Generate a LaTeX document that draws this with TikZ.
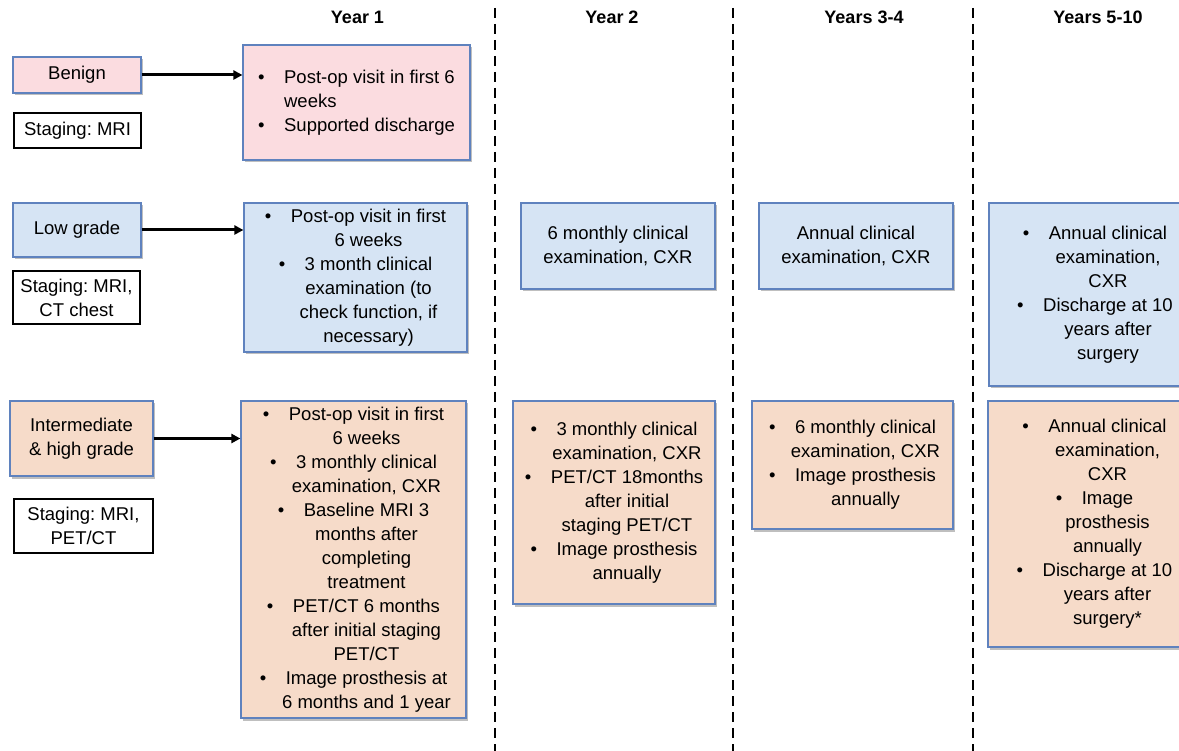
\documentclass[tikz,border=0pt]{standalone}
\usepackage{fontspec}
\setmainfont{Liberation Sans}
\usetikzlibrary{arrows.meta,shadows}
\definecolor{pinkc}{RGB}{251,220,224}
\definecolor{bluec}{RGB}{214,228,244}
\definecolor{orangec}{RGB}{246,219,201}
\definecolor{edgec}{RGB}{95,130,190}
\newcommand\bul{\makebox[26pt][l]{\textbullet}}
\newcommand\ind{\hspace*{26pt}}
\frenchspacing
\tikzset{
  txt/.style={font=\fontsize{18.5pt}{24pt}\selectfont, align=center, inner sep=0pt},
  bx/.style={txt, draw=edgec, line width=1.2pt, drop shadow={shadow xshift=1.5pt, shadow yshift=-2.5pt, opacity=0.25, fill=black}},
  pinkbox/.style={bx, fill=pinkc},
  bluebox/.style={bx, fill=bluec},
  orangebox/.style={bx, fill=orangec},
  stagebox/.style={txt, draw=black, line width=1.2pt, fill=white},
  hdr/.style={font=\fontsize{18pt}{22pt}\selectfont\bfseries, inner sep=0pt},
  divider/.style={line width=2.6pt, dash pattern=on 10pt off 6pt},
  conn/.style={line width=3pt, -{Triangle[length=9pt,width=9pt]}}
}
\begin{document}
\begin{tikzpicture}[x=1pt,y=-1pt]
\useasboundingbox[fill=white] (0,0) rectangle (1179,751);
% headers
\node[hdr] (h1) at (357.5,17) {Year 1};
\node[hdr] (h2) at (612,17) {Year 2};
\node[hdr] (h3) at (864,17) {Years 3-4};
\node[hdr] (h4) at (1098,17) {Years 5-10};
% dividers
\coordinate (d1t) at (495,8); \coordinate (d1b) at (495,751);
\coordinate (d2t) at (733,8); \coordinate (d2b) at (733,751);
\coordinate (d3t) at (973,8); \coordinate (d3b) at (973,751);
\draw[divider] (d1t) -- (d1b);
\draw[divider] (d2t) -- (d2b);
\draw[divider] (d3t) -- (d3b);
% left column
\node[pinkbox, minimum width=128pt, minimum height=36pt] (benign) at (77,75) {Benign};
\node[stagebox, minimum width=127pt, minimum height=35pt] (stg1) at (77.5,130.5) {Staging: MRI};
\node[bluebox, minimum width=128pt, minimum height=54pt] (low) at (77,230) {Low grade};
\node[stagebox, minimum width=127pt, minimum height=53pt] (stg2) at (76.5,297.5) {Staging: MRI,\\CT chest};
\node[orangebox, minimum width=143pt, minimum height=75pt] (inter) at (81.5,438.5) {Intermediate\\\& high grade};
\node[stagebox, minimum width=139pt, minimum height=54pt] (stg3) at (83.5,526) {Staging: MRI,\\PET/CT};
% year 1
\node[pinkbox, minimum width=227pt, minimum height=115pt, align=left] (b1) at (356.5,102.5)
  {\bul Post-op visit in first 6\\\ind weeks\\\bul Supported discharge};
\node[bluebox, minimum width=223pt, minimum height=149pt] (l1) at (355.5,277.5)
  {\bul Post-op visit in first\\\ind 6 weeks\\\bul 3 month clinical\\\ind examination (to\\\ind check function, if\\\ind necessary)};
\node[orangebox, minimum width=225pt, minimum height=317pt] (i1) at (353.5,559.5)
  {\bul Post-op visit in first\\\ind 6 weeks\\\bul 3 monthly clinical\\\ind examination, CXR\\\bul Baseline MRI 3\\\ind months after\\\ind completing\\\ind treatment\\\bul PET/CT 6 months\\\ind after initial staging\\\ind PET/CT\\\bul Image prosthesis at\\\ind 6 months and 1 year};
% year 2
\node[bluebox, minimum width=194pt, minimum height=86pt] (l2) at (618,246)
  {6 monthly clinical\\examination, CXR};
\node[orangebox, minimum width=202pt, minimum height=203pt] (i2) at (614,502.5)
  {\bul 3 monthly clinical\\\ind examination, CXR\\\bul PET/CT 18months\\\ind after initial\\\ind staging PET/CT\\\bul Image prosthesis\\\ind annually};
% years 3-4
\node[bluebox, minimum width=194pt, minimum height=86pt] (l3) at (856,246)
  {Annual clinical\\examination, CXR};
\node[orangebox, minimum width=201pt, minimum height=128pt] (i3) at (852.5,465)
  {\bul 6 monthly clinical\\\ind examination, CXR\\\bul Image prosthesis\\\ind annually};
% years 5-10
\node[bluebox, minimum width=212pt, minimum height=183pt] (l4) at (1095,294.5)
  {\bul Annual clinical\\\ind examination,\\\ind CXR\\\bul Discharge at 10\\\ind years after\\\ind surgery};
\node[orangebox, minimum width=213pt, minimum height=246pt] (i4) at (1094.5,524)
  {\bul Annual clinical\\\ind examination,\\\ind CXR\\\bul Image\\\ind prosthesis\\\ind annually\\\bul Discharge at 10\\\ind years after\\\ind surgery*};
% connectors
\draw[conn] (benign.east) -- (b1.west |- benign.east);
\draw[conn] (low.east) -- (l1.west |- low.east);
\draw[conn] (inter.east) -- (i1.west |- inter.east);
\end{tikzpicture}
\end{document}
